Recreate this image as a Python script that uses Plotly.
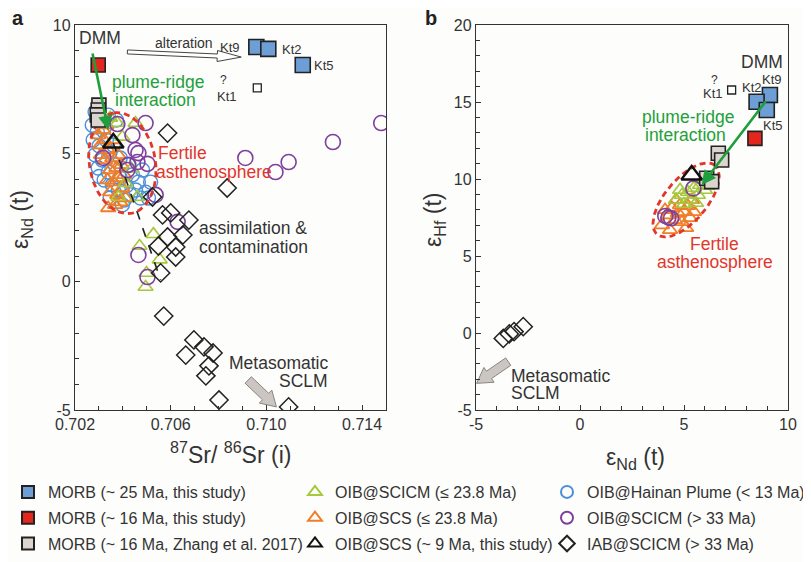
import numpy as np
import plotly.graph_objects as go

# The page body keeps an 8 px margin, so the figure is drawn 8 px smaller and
# every layout position below is given in the reference frame and shifted by OFF.
OFF = 8
FW, FH = 811 - OFF, 562 - OFF
FONT = "Liberation Sans, Arial, sans-serif"
TXT = "#333333"
GREEN = "#22a03a"
RED = "#e2352b"

# ---------------- panel a : 87Sr/86Sr(i) vs eNd(t) ----------------
a_morb25_sr = [0.70958, 0.71008, 0.71152]
a_morb25_nd = [9.14, 9.07, 8.44]
a_kt1_sr = [0.70962]
a_kt1_nd = [7.55]
a_morb16_sr = [0.70297]
a_morb16_nd = [8.44]
a_zhang_sr = [0.70300, 0.70297, 0.70293, 0.70297]
a_zhang_nd = [6.88, 6.69, 6.50, 6.30]
a_scs9_sr = [0.70360]
a_scs9_nd = [5.40]
a_hainan_sr = [0.70284, 0.70305, 0.70272, 0.70293, 0.70322, 0.70276, 0.70301, 0.70331, 0.70284,
               0.70314, 0.70347, 0.70297, 0.70339, 0.70368, 0.70322, 0.70356, 0.70389, 0.70381,
               0.70415, 0.70432, 0.70406, 0.70453, 0.70474, 0.70495, 0.70465, 0.70440, 0.70482,
               0.70423, 0.70389, 0.70360, 0.70301, 0.70347, 0.70507, 0.70516, 0.70339, 0.70398,
               0.70373]
a_hainan_nd = [6.61, 6.38, 6.10, 5.83, 5.99, 5.52, 5.29, 5.52, 4.94,
               4.74, 5.05, 4.43, 4.27, 4.55, 3.96, 3.77, 4.04, 3.57,
               3.73, 3.38, 3.18, 3.57, 3.26, 3.49, 3.88, 4.16, 4.35,
               4.55, 4.82, 5.32, 4.10, 3.26, 3.26, 3.88, 6.49, 2.99,
               6.30]
a_scs_sr = [0.70297, 0.70318, 0.70305, 0.70339, 0.70326, 0.70356, 0.70347, 0.70373, 0.70335,
            0.70360, 0.70381, 0.70347, 0.70377, 0.70398, 0.70368, 0.70389, 0.70339, 0.70411,
            0.70322, 0.70360, 0.70381, 0.70394, 0.70406, 0.70309, 0.70331]
a_scs_nd = [5.71, 5.91, 5.32, 5.13, 4.74, 4.82, 4.35, 4.43, 3.96,
            3.88, 4.04, 3.49, 3.38, 3.65, 2.99, 3.10, 2.87, 3.26,
            5.52, 5.52, 4.94, 4.55, 4.16, 4.94, 6.10]
a_sci23_sr = [0.70377, 0.70453, 0.70398, 0.70461, 0.70381, 0.70411, 0.70436, 0.70347,
              0.70528, 0.70554, 0.70499, 0.70495, 0.70470]
a_sci23_nd = [6.18, 6.18, 5.64, 3.30, 3.30, 3.84, 4.40, 6.38,
              1.85, 0.86, 0.34, -0.21, 1.39]
a_sci33_sr = [0.71480, 0.71278, 0.71093, 0.71038, 0.70912, 0.70495, 0.70377, 0.70440, 0.70318,
              0.70453, 0.70465, 0.70461, 0.70419, 0.70423, 0.70503, 0.70537, 0.70629, 0.70465,
              0.70503]
a_sci33_nd = [6.18, 5.44, 4.66, 4.27, 4.82, 6.18, 6.14, 5.71, 4.82,
              5.13, 5.01, 4.66, 4.35, 4.55, 4.59, 3.38, 2.33, 1.04,
              0.18]
a_iab_sr = [0.70587, 0.70836, 0.70524, 0.70566, 0.70600, 0.70676, 0.70587, 0.70651, 0.70621,
            0.70549, 0.70621, 0.70558, 0.70571, 0.70697, 0.70739, 0.70663, 0.70777, 0.70760,
            0.70747, 0.70802, 0.71093]
a_iab_nd = [5.79, 3.65, 3.30, 2.60, 2.68, 2.40, 1.74, 1.82, 1.35,
            1.39, 0.96, 0.34, -1.34, -2.27, -2.54, -2.86, -2.78, -3.28,
            -3.67, -4.61, -4.88]
a_trend_sr = [0.70360, 0.70558]          # dashed assimilation trend
a_trend_nd = [5.40, 0.07]

# ---------------- panel b : eNd(t) vs eHf(t) ----------------
b_morb25_nd = [9.13, 8.49, 8.98]
b_morb25_hf = [15.45, 15.02, 14.48]
b_kt1_nd = [7.29]
b_kt1_hf = [15.78]
b_morb16_nd = [8.41]
b_morb16_hf = [12.64]
b_zhang_nd = [6.65, 6.81, 6.09, 6.33]
b_zhang_hf = [11.67, 11.23, 10.05, 9.83]
b_scs9_nd = [5.37]
b_scs9_hf = [10.26]
b_sci33_nd = [5.45, 4.10, 4.25, 4.38]
b_sci33_hf = [9.39, 7.60, 7.50, 7.45]
b_scs_nd = [3.94, 4.23, 4.42, 4.62, 4.81, 5.00, 5.19, 5.38, 4.57, 4.90, 5.29, 4.33, 5.10, 5.48, 4.09, 4.71]
b_scs_hf = [7.01, 7.66, 8.12, 8.64, 8.31, 7.86, 8.25, 8.64, 7.34, 7.21, 7.47, 6.69, 6.82, 7.86, 7.99, 7.79]
b_sci23_nd = [4.62, 4.90, 5.19, 5.48, 5.77, 6.01, 5.67, 5.29, 5.00, 5.91, 6.15, 5.58, 4.81]
b_sci23_hf = [8.64, 8.96, 9.16, 9.42, 9.61, 9.29, 8.96, 8.64, 8.38, 9.94, 9.55, 8.44, 9.29]
b_iab_nd = [-3.69, -3.40, -3.17, -2.73]
b_iab_hf = [-0.35, -0.06, 0.09, 0.41]

# ---------------- axes / ticks ----------------
xr_a = [0.702, 0.715]
yr_a = [-5, 10]
xr_b = [-5, 10]
yr_b = [-5, 20]
a_xticks = [0.702, 0.706, 0.710, 0.714]
a_xticktext = ["0.702", "0.706", "0.710", "0.714"]
a_yticks = [-5, 0, 5, 10]
a_yticktext = ["-5", "0", "5", "10"]
b_xticks = [-5, 0, 5, 10]
b_xticktext = ["-5", "0", "5", "10"]
b_yticks = [-5, 0, 5, 10, 15, 20]
b_yticktext = ["-5", "0", "5", "10", "15", "20"]

legend_names = {
    "morb25": "MORB (~ 25 Ma, this study)",
    "morb16": "MORB (~ 16 Ma, this study)",
    "zhang": "MORB (~ 16 Ma, Zhang et al. 2017)",
    "sci23": "OIB@SCICM (≤ 23.8 Ma)",
    "scs": "OIB@SCS (≤ 23.8 Ma)",
    "scs9": "OIB@SCS (~ 9 Ma, this study)",
    "hainan": "OIB@Hainan Plume (< 13 Ma)",
    "sci33": "OIB@SCICM (> 33 Ma)",
    "iab": "IAB@SCICM (> 33 Ma)",
}


def PX(p):
    return (p - OFF) / FW


def PY(p):
    return 1 - (p - OFF) / FH


dom_a = [PX(75), PX(386)]
dom_b = [PX(476), PX(788)]
dom_y = [PY(410), PY(25)]

# pixel per data unit (used only for drawing ellipses / block arrows with screen-shaped geometry)
sx_a = FW * (dom_a[1] - dom_a[0]) / (xr_a[1] - xr_a[0])
sy_a = FH * (dom_y[1] - dom_y[0]) / (yr_a[1] - yr_a[0])
sx_b = FW * (dom_b[1] - dom_b[0]) / (xr_b[1] - xr_b[0])
sy_b = FH * (dom_y[1] - dom_y[0]) / (yr_b[1] - yr_b[0])

fig = go.Figure()

STY = {
    "morb25": dict(symbol="square", size=15, color="#6d9fd6", line=dict(color="#222", width=1.6)),
    "morb16": dict(symbol="square", size=14, color="#e3261e", line=dict(color="#222", width=1.6)),
    "zhang": dict(symbol="square", size=14, color="#dcd4cf", line=dict(color="#222", width=1.6)),
    "kt1": dict(symbol="square", size=8, color="white", line=dict(color="#222", width=1.3)),
    "sci23": dict(symbol="triangle-up-open", size=13, color="#a6c83c", line=dict(width=1.6)),
    "scs": dict(symbol="triangle-up-open", size=13, color="#f07d28", line=dict(width=1.8)),
    "scs9": dict(symbol="triangle-up-open", size=18, color="#111", line=dict(width=2.4)),
    "hainan": dict(symbol="circle-open", size=14, color="#4a90d9", line=dict(width=1.4)),
    "sci33": dict(symbol="circle-open", size=15, color="#7e3f9e", line=dict(width=1.6)),
    "iab": dict(symbol="diamond-open", size=14, color="#222", line=dict(width=1.5)),
}
LEG = {"morb25": ("legend", 1), "morb16": ("legend", 2), "zhang": ("legend", 3),
       "sci23": ("legend2", 1), "scs": ("legend2", 2), "scs9": ("legend2", 3),
       "hainan": ("legend3", 1), "sci33": ("legend3", 2), "iab": ("legend3", 3)}


def pts(x, y, key, panel):
    xa, ya = ("x", "y") if panel == "a" else ("x2", "y2")
    kw = dict(x=x, y=y, mode="markers", marker=STY[key], xaxis=xa, yaxis=ya,
              hoverinfo="skip")
    if key in LEG and panel == "a":
        leg, rank = LEG[key]
        kw.update(name=legend_names[key], legend=leg, legendrank=rank, legendgroup=key,
                  showlegend=True)
    else:
        kw.update(showlegend=False, legendgroup=key if key in LEG else None)
    fig.add_trace(go.Scatter(**kw))


def ellipse(cx, cy, a_px, b_px, ang_deg, sx, sy, panel):
    t = np.linspace(0, 2 * np.pi, 181)
    g = np.radians(ang_deg)
    ex = a_px * np.cos(t) * np.cos(g) - b_px * np.sin(t) * np.sin(g)
    ey = a_px * np.cos(t) * np.sin(g) + b_px * np.sin(t) * np.cos(g)
    xa, ya = ("x", "y") if panel == "a" else ("x2", "y2")
    fig.add_trace(go.Scatter(x=cx + ex / sx, y=cy + ey / sy, mode="lines", xaxis=xa, yaxis=ya,
                             line=dict(color=RED, width=2.8, dash="6px,4px"), hoverinfo="skip",
                             showlegend=False))


def block_arrow(x0, y0, x1, y1, sx, sy, shaft, head, head_len, fill, edge, panel):
    p0 = np.array([x0 * sx, y0 * sy])
    p1 = np.array([x1 * sx, y1 * sy])
    d = p1 - p0
    u = d / np.linalg.norm(d)
    n = np.array([-u[1], u[0]])
    b = p1 - u * head_len
    poly = [p0 + n * shaft / 2, b + n * shaft / 2, b + n * head / 2, p1,
            b - n * head / 2, b - n * shaft / 2, p0 - n * shaft / 2, p0 + n * shaft / 2]
    xa, ya = ("x", "y") if panel == "a" else ("x2", "y2")
    fig.add_trace(go.Scatter(x=[p[0] / sx for p in poly], y=[p[1] / sy for p in poly],
                             mode="lines", fill="toself", fillcolor=fill, xaxis=xa, yaxis=ya,
                             line=dict(color=edge, width=1), hoverinfo="skip", showlegend=False))


# ---- panel a ----
pts(a_hainan_sr, a_hainan_nd, "hainan", "a")
pts(a_scs_sr, a_scs_nd, "scs", "a")
pts(a_sci23_sr, a_sci23_nd, "sci23", "a")
pts(a_sci33_sr, a_sci33_nd, "sci33", "a")
pts(a_iab_sr, a_iab_nd, "iab", "a")
fig.add_trace(go.Scatter(x=a_trend_sr, y=a_trend_nd, mode="lines", xaxis="x", yaxis="y",
                         line=dict(color="#222", width=1.6, dash="dash"), hoverinfo="skip",
                         showlegend=False))
ellipse(0.70398, 4.62, 51, 33, 100, sx_a, sy_a, "a")
pts(a_zhang_sr, a_zhang_nd, "zhang", "a")
pts(a_morb16_sr, a_morb16_nd, "morb16", "a")
pts(a_morb25_sr, a_morb25_nd, "morb25", "a")
pts(a_kt1_sr, a_kt1_nd, "kt1", "a")
pts(a_scs9_sr, a_scs9_nd, "scs9", "a")
block_arrow(0.70419, 8.95, 0.70895, 8.75, sx_a, sy_a, 4, 11, 24, "white", "#444", "a")
block_arrow(0.70924, -3.83, 0.71042, -4.88, sx_a, sy_a, 9, 18, 15, "#cbc6c2", "#8a8580", "a")

# ---- panel b ----
pts(b_scs_nd, b_scs_hf, "scs", "b")
pts(b_sci23_nd, b_sci23_hf, "sci23", "b")
pts(b_sci33_nd, b_sci33_hf, "sci33", "b")
pts(b_iab_nd, b_iab_hf, "iab", "b")
ellipse(5.10, 8.64, 45, 21, 50, sx_b, sy_b, "b")
pts(b_zhang_nd, b_zhang_hf, "zhang", "b")
pts(b_morb16_nd, b_morb16_hf, "morb16", "b")
pts(b_morb25_nd, b_morb25_hf, "morb25", "b")
pts(b_kt1_nd, b_kt1_hf, "kt1", "b")
pts(b_scs9_nd, b_scs9_hf, "scs9", "b")
block_arrow(-3.45, -1.86, -4.97, -3.27, sx_b, sy_b, 9, 18, 15, "#cbc6c2", "#8a8580", "b")


def txt(x, y, s, size, color=TXT, panel="a", xanchor="center"):
    xr, yr = ("x", "y") if panel == "a" else ("x2", "y2")
    return dict(x=x, y=y, xref=xr, yref=yr, text=s, showarrow=False, xanchor=xanchor,
                yanchor="middle", font=dict(family=FONT, size=size, color=color))


def ptxt(xpx, ypx, s, size, angle=0, bold=False):
    return dict(x=PX(xpx), y=PY(ypx), xref="paper", yref="paper",
                text=("<b>%s</b>" % s) if bold else s, showarrow=False, textangle=angle,
                xanchor="center", yanchor="middle",
                font=dict(family=FONT, size=size, color="#222" if bold else TXT))


ann = [
    # panel a
    txt(0.70305, 9.49, "DMM", 17.5),
    txt(0.70655, 9.30, "alteration", 14),
    txt(0.70848, 9.14, "Kt9", 13),
    txt(0.71105, 9.06, "Kt2", 13),
    txt(0.71240, 8.44, "Kt5", 13),
    txt(0.70821, 7.86, "?", 12),
    txt(0.70834, 7.23, "Kt1", 13),
    txt(0.70549, 7.78, "plume-ridge", 17.5, GREEN),
    txt(0.70537, 7.08, "interaction", 17.5, GREEN),
    txt(0.70650, 5.01, "Fertile", 17.5, RED),
    txt(0.70781, 4.27, "asthenosphere", 17.5, RED),
    txt(0.70945, 2.09, "assimilation &", 17.5),
    txt(0.70945, 1.35, "contamination", 17.5),
    txt(0.71050, -3.17, "Metasomatic", 17.5),
    txt(0.71156, -3.87, "SCLM", 17.5),
    # panel b
    txt(8.75, 17.60, "DMM", 17.5, panel="b"),
    txt(6.49, 16.43, "?", 12, panel="b"),
    txt(6.39, 15.58, "Kt1", 13, panel="b"),
    txt(8.27, 15.97, "Kt2", 13, panel="b"),
    txt(9.23, 16.43, "Kt9", 13, panel="b"),
    txt(9.28, 13.50, "Kt5", 13, panel="b"),
    txt(5.19, 14.03, "plume-ridge", 17.5, GREEN, panel="b"),
    txt(5.05, 12.86, "interaction", 17.5, GREEN, panel="b"),
    txt(6.49, 5.78, "Fertile", 17.5, RED, panel="b"),
    txt(6.49, 4.61, "asthenosphere", 17.5, RED, panel="b"),
    txt(-3.41, -2.79, "Metasomatic", 17.5, panel="b", xanchor="left"),
    txt(-3.41, -3.90, "SCLM", 17.5, panel="b", xanchor="left"),
    # green arrows (plume-ridge interaction)
    dict(x=0.70339, y=5.91, ax=0.70272, ay=8.95, xref="x", yref="y", axref="x", ayref="y",
         text="", showarrow=True, arrowhead=2, arrowsize=1.1, arrowwidth=2.6, arrowcolor="#1f9e3c"),
    dict(x=5.85, y=9.61, ax=8.98, ay=15.13, xref="x2", yref="y2", axref="x2", ayref="y2",
         text="", showarrow=True, arrowhead=2, arrowsize=1.1, arrowwidth=2.6, arrowcolor="#1f9e3c"),
    # axis titles and panel labels
    ptxt(230, 453, "<sup>87</sup>Sr/ <sup>86</sup>Sr (i)", 23),
    ptxt(21, 220, "ε<sub>Nd</sub> (t)", 23, angle=-90),
    ptxt(635, 458, "ε<sub>Nd</sub> (t)", 23),
    ptxt(434, 220, "ε<sub>Hf</sub> (t)", 23, angle=-90),
    ptxt(18, 18, "a", 20, bold=True),
    ptxt(431, 18, "b", 20, bold=True),
]


def axis(dom, rng, tv, tt, minor_dtick, anchor, minor_tick0):
    return dict(domain=dom, range=rng, anchor=anchor, tickmode="array", tickvals=tv, ticktext=tt,
                automargin=False,
                showline=True, mirror=True, linecolor="#333", linewidth=1.3, ticks="inside",
                ticklen=5, tickwidth=1, tickcolor="#333", showgrid=False, zeroline=False,
                tickfont=dict(family=FONT, size=16, color=TXT),
                minor=dict(tickmode="linear", tick0=minor_tick0, dtick=minor_dtick, ticks="inside",
                           ticklen=4, tickwidth=1, tickcolor="#333", showgrid=False))


leg_common = dict(font=dict(family=FONT, size=16, color=TXT), bgcolor="rgba(0,0,0,0)",
                  xanchor="left", yanchor="top", y=PY(475), tracegroupgap=2,
                  itemsizing="constant", orientation="v")

fig.update_layout(
    width=FW, height=FH, margin=dict(l=0, r=0, t=0, b=0, autoexpand=False),
    paper_bgcolor="#fdfdfb", plot_bgcolor="#fdfdfb",
    font=dict(family=FONT, color=TXT),
    xaxis=axis(dom_a, xr_a, a_xticks, a_xticktext, 0.001, "y", 0.702),
    yaxis=axis(dom_y, yr_a, a_yticks, a_yticktext, 1, "x", -5),
    xaxis2=axis(dom_b, xr_b, b_xticks, b_xticktext, 1, "y2", -5),
    yaxis2=axis(dom_y, yr_b, b_yticks, b_yticktext, 1, "x2", -5),
    legend=dict(x=0, **leg_common),
    legend2=dict(x=PX(295), **leg_common),
    legend3=dict(x=PX(547), **leg_common),
    annotations=ann,
    showlegend=True,
)

fig.write_html("out.html")
